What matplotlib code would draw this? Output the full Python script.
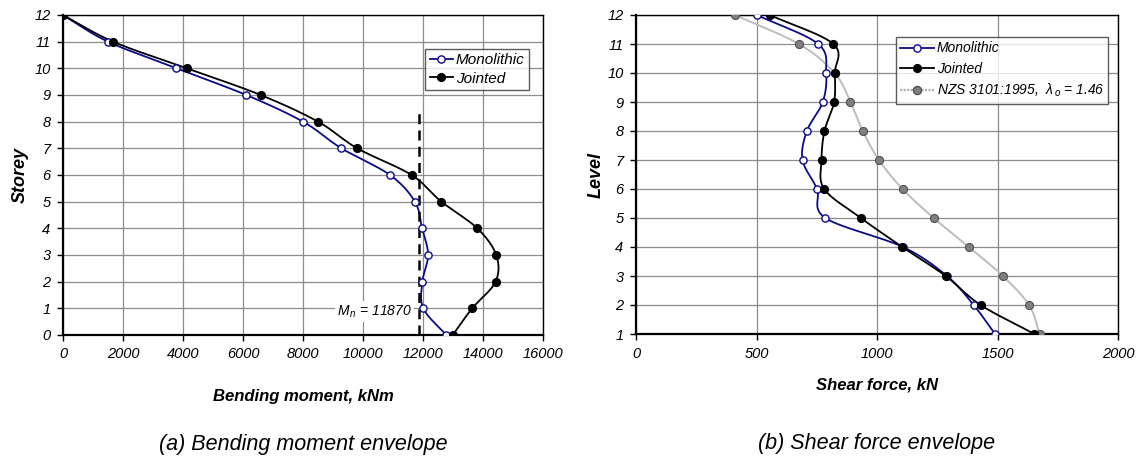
import numpy as np
import matplotlib
matplotlib.use("Agg")
import matplotlib.pyplot as plt

plt.rcParams["font.family"] = ["Liberation Sans", "DejaVu Sans"]
plt.rcParams["mathtext.fontset"] = "custom"
plt.rcParams["mathtext.it"] = "Liberation Sans:italic"
plt.rcParams["mathtext.rm"] = "Liberation Sans"

# (a) bending moment envelope, storey 0..12
storey = [0, 1, 2, 3, 4, 5, 6, 7, 8, 9, 10, 11, 12]
bm_mono = [12770, 12010, 11980, 12170, 11970, 11730, 10900, 9280, 8000, 6110, 3780, 1500, 0]
bm_joint = [12990, 13640, 14420, 14440, 13810, 12610, 11620, 9810, 8500, 6590, 4130, 1670, 0]
MN = 11870
MN_TOP = 8.35

# (b) shear force envelope, level 1..12
level = [1, 2, 3, 4, 5, 6, 7, 8, 9, 10, 11, 12]
sf_mono = [1490, 1401, 1290, 1108, 786, 751, 691, 709, 775, 789, 756, 501]
sf_joint = [1653, 1430, 1285, 1105, 933, 781, 770, 782, 822, 825, 819, 555]
sf_nzs = [1675, 1631, 1522, 1381, 1235, 1106, 1008, 941, 890, 824, 676, 410]

NAVY = "#0b0b8a"
GRID = "#8c8c8c"


def smooth(x, y, sx, sy, n=20):
    # Catmull-Rom curve through the points, done in pixel-like space
    p = np.column_stack([np.asarray(x, float) / sx, np.asarray(y, float) / sy])
    p = np.vstack([2 * p[0] - p[1], p, 2 * p[-1] - p[-2]])
    out = []
    t = np.linspace(0, 1, n, endpoint=False)[:, None]
    for i in range(1, len(p) - 2):
        p0, p1, p2, p3 = p[i - 1], p[i], p[i + 1], p[i + 2]
        seg = 0.5 * ((2 * p1) + (-p0 + p2) * t + (2 * p0 - 5 * p1 + 4 * p2 - p3) * t ** 2
                     + (-p0 + 3 * p1 - 3 * p2 + p3) * t ** 3)
        out.append(seg)
    out.append(p[-2][None, :])
    out = np.vstack(out)
    return out[:, 0] * sx, out[:, 1] * sy


def style_axes(ax):
    ax.grid(True, color=GRID, lw=0.9)
    ax.set_axisbelow(True)
    for s in ax.spines.values():
        s.set_color("black")
        s.set_linewidth(1.0)
    ax.spines["left"].set_linewidth(1.6)
    ax.spines["bottom"].set_linewidth(1.6)
    ax.tick_params(direction="out", length=4, width=1, labelsize=10.5, pad=5)
    for lab in ax.get_xticklabels() + ax.get_yticklabels():
        lab.set_fontstyle("italic")


fig = plt.figure(figsize=(11.4, 4.71), dpi=100)

# ---- (a)
ax1 = fig.add_axes([63 / 1140, 1 - 335 / 471, 480 / 1140, 320 / 471])
sx1, sy1 = 16000 / 480, 12 / 320
for xs, col in [(bm_mono, NAVY), (bm_joint, "black")]:
    cx, cy = smooth(xs, storey, sx1, sy1)
    ax1.plot(cx, cy, color=col, lw=1.3, zorder=3)
ax1.plot(bm_mono, storey, ls="none", marker="o", ms=5.2, mfc="white", mec=NAVY, mew=1.0, zorder=4)
ax1.plot(bm_joint, storey, ls="none", marker="o", ms=5.6, mfc="black", mec="black", zorder=4)
ax1.plot([], [], color=NAVY, lw=1.3, marker="o", ms=5.2, mfc="white", mec=NAVY, label="Monolithic")
ax1.plot([], [], color="black", lw=1.3, marker="o", ms=5.6, mfc="black", label="Jointed")
ax1.plot([MN, MN], [0, MN_TOP], color="black", lw=1.8, ls=(0, (4, 2.5)), zorder=3)
ax1.text(MN - 230, 0.88, r"$M_{\,n}$ = 11870", ha="right", va="center", fontsize=10,
         fontstyle="italic", bbox=dict(fc="white", ec="none", pad=1.5), zorder=5)
ax1.set_xlim(0, 16000)
ax1.set_ylim(0, 12)
ax1.set_xticks(range(0, 16001, 2000))
ax1.set_yticks(range(0, 13))
style_axes(ax1)
ax1.set_xlabel("Bending moment, kNm", fontsize=12, fontweight="bold", fontstyle="italic", labelpad=20)
ax1.set_ylabel("Storey", fontsize=13, fontweight="bold", fontstyle="italic", labelpad=4)
leg1 = ax1.legend(loc="upper left", bbox_to_anchor=(0.755, 0.895), fontsize=11, frameon=True,
                  fancybox=False, edgecolor="#333333", handlelength=1.5, handletextpad=0.2,
                  borderpad=0.3, labelspacing=0.3, borderaxespad=0)
for t in leg1.get_texts():
    t.set_fontstyle("italic")
leg1.get_frame().set_linewidth(1.0)
ax1.text(0.5, -0.31, "(a) Bending moment envelope", transform=ax1.transAxes, ha="center",
         va="top", fontsize=15.5, fontstyle="italic")

# ---- (b)
ax2 = fig.add_axes([636 / 1140, 1 - 334 / 471, 482 / 1140, 319 / 471])
sx2, sy2 = 2000 / 482, 11 / 319
cx, cy = smooth(sf_nzs, level, sx2, sy2)
ax2.plot(cx, cy, color="#bdbdbd", lw=1.4, zorder=2)
for xs, col in [(sf_mono, NAVY), (sf_joint, "black")]:
    cx, cy = smooth(xs, level, sx2, sy2)
    ax2.plot(cx, cy, color=col, lw=1.3, zorder=3)
ax2.plot(sf_nzs, level, ls="none", marker="o", ms=5.8, mfc="#808080", mec="#505050", mew=0.8, zorder=3)
ax2.plot(sf_mono, level, ls="none", marker="o", ms=5.2, mfc="white", mec=NAVY, mew=1.0, zorder=4)
ax2.plot(sf_joint, level, ls="none", marker="o", ms=5.6, mfc="black", mec="black", zorder=4)
ax2.plot([], [], color=NAVY, lw=1.3, marker="o", ms=5.2, mfc="white", mec=NAVY, label="Monolithic")
ax2.plot([], [], color="black", lw=1.3, marker="o", ms=5.6, mfc="black", label="Jointed")
ax2.plot([], [], color="#b0b0b0", lw=1.6, ls=(0, (1, 0.6)), marker="o", ms=5.8, mfc="#808080",
         mec="#505050", label=r"NZS 3101:1995,  $\mathregular{\lambda_{\,o}}$ = 1.46")
ax2.set_xlim(0, 2000)
ax2.set_ylim(1, 12)
ax2.set_xticks(range(0, 2001, 500))
ax2.set_yticks(range(1, 13))
style_axes(ax2)
ax2.set_xlabel("Shear force, kN", fontsize=12, fontweight="bold", fontstyle="italic", labelpad=12)
ax2.set_ylabel("Level", fontsize=13, fontweight="bold", fontstyle="italic", labelpad=2)
leg2 = ax2.legend(loc="upper left", bbox_to_anchor=(0.54, 0.93), fontsize=10, frameon=True,
                  fancybox=False, edgecolor="#333333", handlelength=2.4, handletextpad=0.2,
                  borderpad=0.3, labelspacing=0.45, borderaxespad=0)
for t in leg2.get_texts():
    t.set_fontstyle("italic")
leg2.get_frame().set_linewidth(1.0)
ax2.text(0.5, -0.31, "(b) Shear force envelope", transform=ax2.transAxes, ha="center",
         va="top", fontsize=15.5, fontstyle="italic")

fig.savefig("out.png", dpi=100)
